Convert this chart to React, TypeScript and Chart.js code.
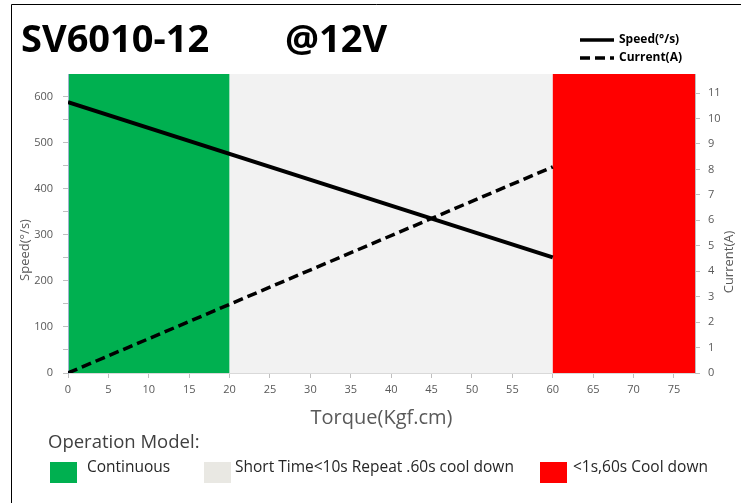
import React, { useEffect, useRef } from "react";
import { Chart, registerables } from "chart.js";

Chart.register(...registerables);

// ---- data ----
const TORQUE = [0, 60];
const SPEED = [588, 251];
const CURRENT = [0, 8.1];

const X_TICKS = [0, 5, 10, 15, 20, 25, 30, 35, 40, 45, 50, 55, 60, 65, 70, 75];
const SPEED_TICKS = [0, 50, 100, 150, 200, 250, 300, 350, 400, 450, 500, 550, 600];
const CURRENT_TICKS = [0, 0.5, 1, 1.5, 2, 2.5, 3, 3.5, 4, 4.5, 5, 5.5, 6, 6.5, 7, 7.5, 8, 8.5, 9, 9.5, 10, 10.5, 11];

const REGION_STARTS = [0, 20, 60];
const REGION_ENDS = [20, 60, 77.6];
const REGION_COLORS = ["#00b050", "#f2f2f2", "#ff0000"];
const REGION_SWATCHES = ["#00b050", "#e9e8e3", "#ff0000"];
const REGION_LABELS = ["Continuous", "Short Time<10s Repeat .60s cool down", "<1s,60s Cool down"];

const TITLE = "SV6010-12";
const SUBTITLE = "@12V";
const X_TITLE = "Torque(Kgf.cm)";
const Y_TITLE = "Speed(°/s)";
const Y1_TITLE = "Current(A)";
const LEGEND_TITLE = "Operation Model:";

const FONT = "'Open Sans', 'DejaVu Sans', sans-serif";
const TICK_COLOR = "#595959";

const decor = {
  id: "decor",
  beforeDraw(chart: any) {
    const { ctx, chartArea: a, scales } = chart;
    const x = scales.x;
    ctx.save();
    REGION_STARTS.forEach((s, i) => {
      const x1 = x.getPixelForValue(s);
      const x2 = x.getPixelForValue(REGION_ENDS[i]);
      ctx.fillStyle = REGION_COLORS[i];
      ctx.fillRect(x1, a.top, x2 - x1, a.bottom - a.top);
    });
    ctx.restore();
  },
  afterDraw(chart: any) {
    const { ctx } = chart;
    ctx.save();
    // frame
    ctx.strokeStyle = "#000";
    ctx.lineWidth = 1;
    ctx.beginPath();
    ctx.moveTo(11.5, 503);
    ctx.lineTo(11.5, 4.5);
    ctx.lineTo(741, 4.5);
    ctx.stroke();

    // title
    ctx.fillStyle = "#000";
    ctx.textBaseline = "middle";
    ctx.textAlign = "left";
    ctx.font = `bold 38px ${FONT}`;
    ctx.fillText(TITLE, 21, 41);
    ctx.fillText(SUBTITLE, 285, 41);

    // series legend
    const ds = chart.data.datasets;
    const rows = [40, 58];
    ds.forEach((d: any, i: number) => {
      ctx.strokeStyle = d.borderColor;
      ctx.lineWidth = 3.5;
      ctx.setLineDash(d.borderDash || []);
      ctx.beginPath();
      ctx.moveTo(580, rows[i]);
      ctx.lineTo(614, rows[i]);
      ctx.stroke();
      ctx.setLineDash([]);
      ctx.fillStyle = "#000";
      ctx.font = `bold 12px ${FONT}`;
      ctx.fillText(d.label, 619, rows[i]);
    });

    // vertical axis titles
    ctx.fillStyle = TICK_COLOR;
    ctx.font = `13px ${FONT}`;
    ctx.textAlign = "center";
    ctx.save();
    ctx.translate(25, 250);
    ctx.rotate(-Math.PI / 2);
    ctx.fillText(Y_TITLE, 0, 0);
    ctx.restore();
    ctx.save();
    ctx.translate(729, 262);
    ctx.rotate(-Math.PI / 2);
    ctx.fillText(Y1_TITLE, 0, 0);
    ctx.restore();

    // operation model legend
    ctx.textAlign = "left";
    ctx.fillStyle = "#404040";
    ctx.font = `18.5px ${FONT}`;
    ctx.fillText(LEGEND_TITLE, 48, 443);
    const boxX = [50, 204, 540];
    const textX = [87, 235, 573];
    REGION_LABELS.forEach((lab, i) => {
      ctx.fillStyle = REGION_SWATCHES[i];
      ctx.fillRect(boxX[i], 462, 27, 21);
      ctx.fillStyle = "#262626";
      ctx.font = `15.5px ${FONT}`;
      ctx.fillText(lab, textX[i], 468);
    });
    ctx.restore();
  },
};

export default function App() {
  const ref = useRef<HTMLCanvasElement | null>(null);

  useEffect(() => {
    if (!ref.current) return;
    const chart = new Chart(ref.current, {
      type: "line",
      data: {
        datasets: [
          {
            label: "Speed(°/s)",
            data: TORQUE.map((t, i) => ({ x: t, y: SPEED[i] })),
            borderColor: "#000",
            borderWidth: 4,
            pointRadius: 0,
            yAxisID: "y",
          },
          {
            label: "Current(A)",
            data: TORQUE.map((t, i) => ({ x: t, y: CURRENT[i] })),
            borderColor: "#000",
            borderWidth: 3.5,
            borderDash: [10, 5],
            pointRadius: 0,
            yAxisID: "y1",
          },
        ],
      },
      options: {
        animation: false,
        responsive: false,
        layout: { padding: { top: 74, left: 0, right: 0, bottom: 0 } },
        plugins: { legend: { display: false }, tooltip: { enabled: false }, title: { display: false } },
        scales: {
          x: {
            type: "linear",
            min: 0,
            max: REGION_ENDS[REGION_ENDS.length - 1],
            afterBuildTicks: (axis: any) => {
              axis.ticks = X_TICKS.map((v) => ({ value: v }));
            },
            afterFit: (s: any) => {
              s.height = 130;
            },
            grid: { drawOnChartArea: false, tickLength: 5, color: "#bfbfbf" },
            border: { color: "#d9d9d9" },
            ticks: { color: TICK_COLOR, font: { family: FONT, size: 11 }, padding: 5, maxRotation: 0 },
            title: {
              display: true,
              text: X_TITLE,
              color: TICK_COLOR,
              font: { family: FONT, size: 20 },
              padding: { top: 0, bottom: 73 },
            },
          },
          y: {
            position: "left",
            min: 0,
            max: 649,
            afterBuildTicks: (axis: any) => {
              axis.ticks = SPEED_TICKS.map((v) => ({ value: v }));
            },
            afterFit: (s: any) => {
              s.width = 68;
            },
            grid: { drawOnChartArea: false, tickLength: 5, color: "#bfbfbf" },
            border: { color: "#9fb6cc" },
            ticks: {
              color: TICK_COLOR,
              font: { family: FONT, size: 11 },
              padding: 10,
              callback: (v: any) => (Number(v) % 100 === 0 ? String(v) : ""),
            },
          },
          y1: {
            position: "right",
            min: 0,
            max: 11.75,
            afterBuildTicks: (axis: any) => {
              axis.ticks = CURRENT_TICKS.map((v) => ({ value: v }));
            },
            afterFit: (s: any) => {
              s.width = 46;
            },
            grid: { drawOnChartArea: false, tickLength: 5, color: "#bfbfbf" },
            border: { color: "#bfbfbf" },
            ticks: {
              color: TICK_COLOR,
              font: { family: FONT, size: 11 },
              padding: 8,
              callback: (v: any) => (Number.isInteger(Number(v)) ? String(v) : ""),
            },
          },
        },
      },
      plugins: [decor],
    });
    return () => chart.destroy();
  }, []);

  return (
    <div style={{ position: "absolute", left: 0, top: 0, width: 741, height: 503, overflow: "hidden", background: "#fff" }}>
      <canvas ref={ref} width={741} height={503} style={{ display: "block" }} />
    </div>
  );
}
